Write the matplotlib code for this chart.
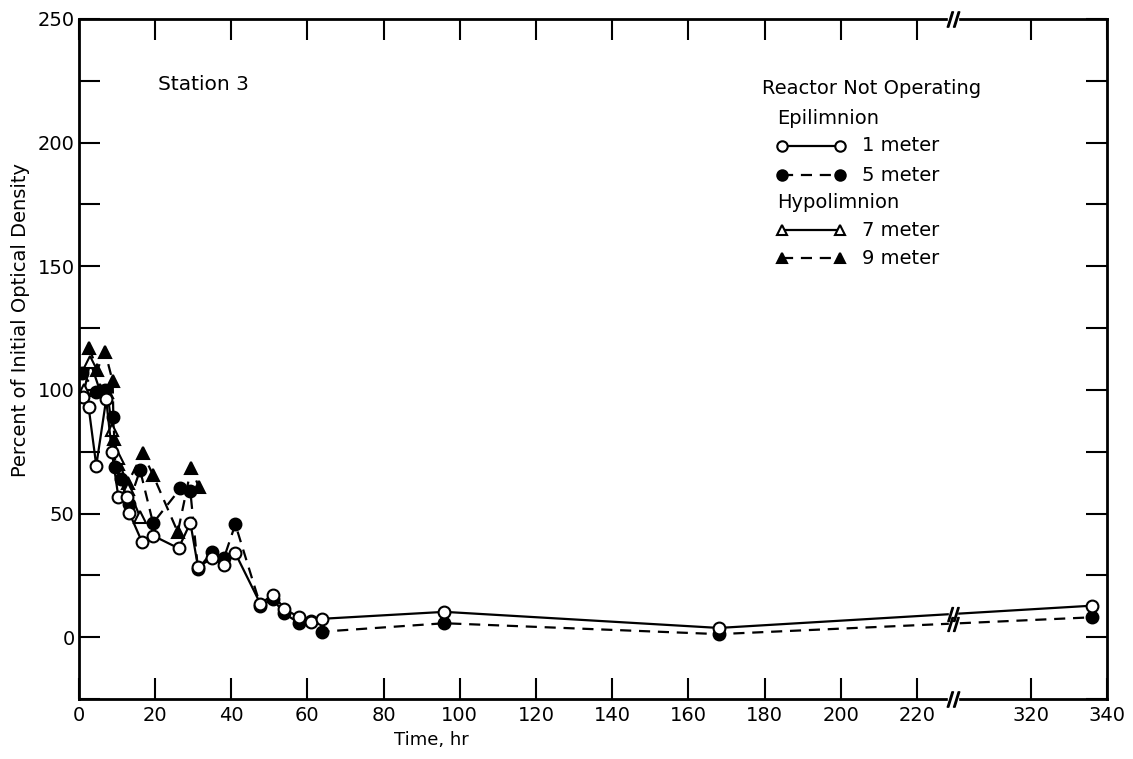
import matplotlib.pyplot as plt
import numpy as np

# Percent of initial optical density, Station 3, reactor not operating
# time axis is broken between 220 and 320 hr
BREAK = 230
OFFSET = 70


def tx(x):
    x = np.asarray(x, dtype=float)
    return np.where(x > BREAK, x - OFFSET, x)


# 1 meter (epilimnion)
t1 = [1.0, 2.6, 4.6, 7.2, 8.7, 10.4, 12.6, 13.3, 16.6, 19.5, 26.2, 29.3, 31.3,
      35.0, 38.1, 41.1, 47.7, 51.0, 54.0, 57.7, 60.9, 63.9, 96, 168, 336]
y1 = [97, 93, 69.4, 96.2, 75.0, 56.7, 56.8, 50.2, 38.6, 41.1, 36.0, 46.3, 28.5,
      31.9, 29.2, 34.0, 13.5, 17.3, 11.5, 8.2, 6.4, 7.5, 10.3, 3.8, 12.8]

# 5 meter (epilimnion)
t5 = [0.9, 4.6, 7.0, 9.1, 9.6, 11.0, 13.1, 16.1, 19.5, 26.7, 29.3, 31.3,
      35.0, 38.1, 41.1, 47.7, 51.0, 53.8, 57.7, 60.9, 63.9, 96, 168, 336]
y5 = [107, 99, 100, 89, 69, 64, 54, 67.6, 46.2, 60.2, 59.0, 27.5,
      34.6, 32.0, 45.7, 12.8, 15.5, 9.8, 5.9, 6.5, 2.3, 5.7, 1.3, 8.1]

# 7 meter (hypolimnion)
t7 = [1.5, 3.0, 5.5, 7.5, 8.8, 10.4, 13.0, 16.1]
y7 = [100, 111.4, 100, 99, 84, 72.3, 60, 48.7]

# 9 meter (hypolimnion)
t9 = [2.8, 4.8, 6.9, 8.9, 9.2, 10.2, 12.8, 16.8, 19.5, 26.0, 29.5, 31.5]
y9 = [117, 108, 115.5, 103.5, 80, 70, 62.2, 74.4, 65.6, 42.5, 68.3, 60.9]

xtick_vals = [0, 20, 40, 60, 80, 100, 120, 140, 160, 180, 200, 220, 320, 340]
ytick_vals = [0, 50, 100, 150, 200, 250]

fig = plt.figure(figsize=(11.33, 7.59), dpi=100)
ax = fig.add_axes([0.0695, 0.0788, 0.9079, 0.8964])

dash = (5, 3.5)
common = dict(color='black', lw=1.6, ms=8.5, mec='black', mew=1.5)
ax.plot(tx(t9), y9, ls='--', dashes=dash, marker='^', mfc='black', **common)
ax.plot(tx(t7), y7, ls='-', marker='^', mfc='white', **common)
ax.plot(tx(t5), y5, ls='--', dashes=dash, marker='o', mfc='black', **common)
ax.plot(tx(t1), y1, ls='-', marker='o', mfc='white', **common)

ax.set_xlim(0, 340 - OFFSET)
ax.set_ylim(-25, 250)

ax.set_xticks(tx(xtick_vals))
ax.set_xticklabels([str(v) for v in xtick_vals], fontsize=14)
ax.set_yticks(ytick_vals)
ax.set_yticklabels([str(v) for v in ytick_vals], fontsize=14)
ax.set_yticks(np.arange(-25, 250, 50), minor=True)
ax.tick_params(which='both', direction='in', length=15, width=1.5,
               top=True, right=True)
ax.tick_params(axis='x', pad=5)
ax.tick_params(axis='y', pad=3)
for s in ax.spines.values():
    s.set_linewidth(2)

# axis break marks (drawn as markers)
bx = BREAK - 0.5
brk = '$//$'
for yy in (0, 1):
    ax.plot([bx], [yy], transform=ax.get_xaxis_transform(), marker='s',
            ms=7, color='white', mec='white', clip_on=False, zorder=5)
    ax.plot([bx], [yy], transform=ax.get_xaxis_transform(), marker=brk,
            ms=11, color='black', clip_on=False, zorder=6)
# break marks on the lines
for tt, yy in ((t1, y1), (t5, y5)):
    yb = np.interp(bx, tx(tt), yy)
    ax.plot([bx], [yb], marker='s', ms=6, color='white', mec='white',
            zorder=5)
    ax.plot([bx], [yb], marker=brk, ms=10, color='black', zorder=6)

ax.text(0.077, 0.903, 'Station 3', transform=ax.transAxes, fontsize=14.5,
        va='center')

# legend
lx0, lx1, ltx = 0.684, 0.740, 0.7615
ax.text(0.664, 0.898, 'Reactor Not Operating', transform=ax.transAxes,
        fontsize=14, va='center')
ax.text(0.679, 0.854, 'Epilimnion', transform=ax.transAxes, fontsize=14,
        va='center')
ax.text(0.679, 0.7297, 'Hypolimnion', transform=ax.transAxes, fontsize=14,
        va='center')
entries = [('1 meter', 0.8135, '-', 'o', 'white'),
           ('5 meter', 0.7704, '--', 'o', 'black'),
           ('7 meter', 0.6896, '-', '^', 'white'),
           ('9 meter', 0.648, '--', '^', 'black')]
for lab, ly, ls, mk, fc in entries:
    kw = dict(dashes=dash) if ls == '--' else {}
    ax.plot([lx0, lx1], [ly, ly], ls=ls, marker=mk, mfc=fc, color='black',
            lw=1.6, ms=7.5, mew=1.5, transform=ax.transAxes, **kw)
    ax.text(ltx, ly, lab, transform=ax.transAxes, fontsize=14, va='center')

fig.text(0.018, 0.578, 'Percent of Initial Optical Density', rotation=90,
         ha='center', va='center', fontsize=14)
fig.text(0.381, 0.025, 'Time, hr', ha='center', va='center', fontsize=13)

fig.savefig('out.png', dpi=100)
